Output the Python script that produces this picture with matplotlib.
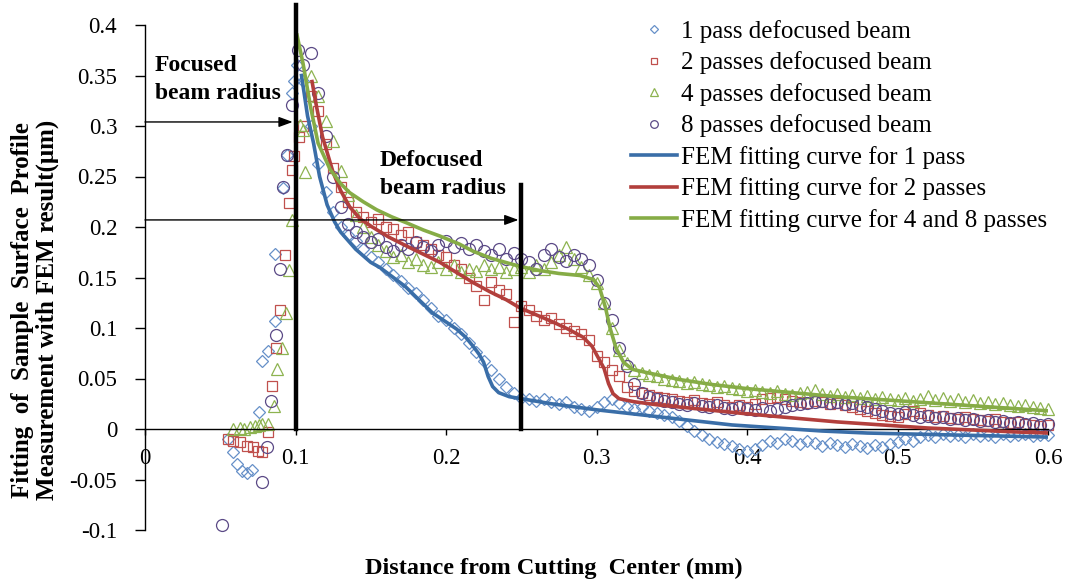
import matplotlib
matplotlib.use('Agg')
import matplotlib.pyplot as plt
from matplotlib.lines import Line2D

plt.rcParams['font.family'] = ['Liberation Serif', 'DejaVu Serif']
plt.rcParams['axes.unicode_minus'] = False

#####################
# data #
#####################
# scattered points before the 0.1 mm edge (x, y)
early_1p_x = [0.055, 0.0585, 0.061, 0.0645, 0.068, 0.071, 0.0757, 0.078, 0.0817, 0.0864,
              0.0864, 0.0917, 0.0943, 0.0977, 0.099, 0.101]
early_1p_y = [-0.010, -0.023, -0.035, -0.042, -0.044, -0.041, 0.017, 0.067, 0.077, 0.107,
              0.173, 0.239, 0.271, 0.333, 0.345, 0.360]
early_2p_x = [0.055, 0.0585, 0.063, 0.068, 0.072, 0.075, 0.078, 0.082, 0.0844, 0.087,
              0.0897, 0.093, 0.0957, 0.0977, 0.099, 0.102]
early_2p_y = [-0.010, -0.012, -0.013, -0.017, -0.018, -0.022, -0.023, -0.003, 0.043, 0.080,
              0.118, 0.172, 0.224, 0.256, 0.270, 0.289]
early_4p_x = [0.0585, 0.063, 0.066, 0.070, 0.073, 0.076, 0.078, 0.082, 0.0857, 0.0877,
              0.091, 0.0937, 0.096, 0.098, 0.103, 0.106]
early_4p_y = [0.000, 0.001, 0.000, 0.002, 0.003, 0.004, 0.005, 0.005, 0.023, 0.059,
              0.080, 0.115, 0.157, 0.207, 0.301, 0.254]
early_8p_x = [0.051, 0.078, 0.081, 0.0837, 0.087, 0.0897, 0.0917, 0.0943, 0.0977, 0.1017]
early_8p_y = [-0.095, -0.052, -0.018, 0.028, 0.093, 0.158, 0.240, 0.271, 0.321, 0.375]

# sampling positions beyond the focused edge (mm)
dist_mm = [0.105, 0.110, 0.115, 0.120, 0.125, 0.130, 0.135, 0.140, 0.145, 0.150,
           0.155, 0.160, 0.165, 0.170, 0.175, 0.180, 0.185, 0.190, 0.195, 0.200,
           0.205, 0.210, 0.215, 0.220, 0.225, 0.230, 0.235, 0.240, 0.245, 0.250,
           0.255, 0.260, 0.265, 0.270, 0.275, 0.280, 0.285, 0.290, 0.295, 0.300,
           0.305, 0.310, 0.315, 0.320, 0.325, 0.330, 0.335, 0.340, 0.345, 0.350,
           0.355, 0.360, 0.365, 0.370, 0.375, 0.380, 0.385, 0.390, 0.395, 0.400,
           0.405, 0.410, 0.415, 0.420, 0.425, 0.430, 0.435, 0.440, 0.445, 0.450,
           0.455, 0.460, 0.465, 0.470, 0.475, 0.480, 0.485, 0.490, 0.495, 0.500,
           0.505, 0.510, 0.515, 0.520, 0.525, 0.530, 0.535, 0.540, 0.545, 0.550,
           0.555, 0.560, 0.565, 0.570, 0.575, 0.580, 0.585, 0.590, 0.595, 0.600]

pass1 = [0.345, 0.300, 0.262, 0.235, 0.215, 0.200, 0.192, 0.186, 0.178, 0.170,
         0.165, 0.158, 0.152, 0.147, 0.140, 0.135, 0.128, 0.120, 0.112, 0.108,
         0.100, 0.094, 0.085, 0.076, 0.067, 0.058, 0.050, 0.042, 0.036, 0.031,
         0.030, 0.028, 0.030, 0.027, 0.025, 0.027, 0.022, 0.020, 0.018, 0.022,
         0.027, 0.030, 0.026, 0.022, 0.020, 0.022, 0.018, 0.016, 0.014, 0.012,
         0.008, 0.003, -0.002, -0.006, -0.010, -0.013, -0.015, -0.017, -0.020, -0.022,
         -0.020, -0.016, -0.012, -0.014, -0.010, -0.012, -0.015, -0.012, -0.014, -0.017,
         -0.014, -0.016, -0.018, -0.015, -0.017, -0.019, -0.016, -0.018, -0.015, -0.013,
         -0.010, -0.012, -0.008, -0.006, -0.008, -0.005, -0.007, -0.006, -0.008, -0.005,
         -0.007, -0.006, -0.008, -0.005, -0.007, -0.006, -0.005, -0.007, -0.006, -0.006]

pass2 = [0.300, 0.330, 0.315, 0.282, 0.258, 0.240, 0.225, 0.215, 0.210, 0.205,
         0.208, 0.200, 0.198, 0.192, 0.195, 0.185, 0.182, 0.178, 0.172, 0.170,
         0.162, 0.158, 0.150, 0.142, 0.128, 0.146, 0.138, 0.134, 0.106, 0.122,
         0.118, 0.112, 0.108, 0.110, 0.104, 0.100, 0.097, 0.094, 0.088, 0.072,
         0.066, 0.058, 0.052, 0.042, 0.038, 0.036, 0.034, 0.032, 0.031, 0.030,
         0.028, 0.027, 0.029, 0.026, 0.025, 0.027, 0.024, 0.022, 0.024, 0.022,
         0.025, 0.030, 0.031, 0.032, 0.030, 0.028, 0.027, 0.026, 0.028, 0.027,
         0.025, 0.026, 0.024, 0.022, 0.020, 0.018, 0.016, 0.014, 0.013, 0.012,
         0.015, 0.018, 0.016, 0.014, 0.012, 0.013, 0.011, 0.010, 0.012, 0.010,
         0.009, 0.008, 0.010, 0.007, 0.006, 0.007, 0.005, 0.004, 0.003, 0.004]

pass4 = [0.296, 0.350, 0.330, 0.305, 0.285, 0.255, 0.232, 0.212, 0.200, 0.190,
         0.182, 0.176, 0.170, 0.172, 0.165, 0.168, 0.162, 0.160, 0.165, 0.158,
         0.162, 0.155, 0.158, 0.156, 0.162, 0.158, 0.160, 0.155, 0.158, 0.160,
         0.155, 0.162, 0.158, 0.165, 0.172, 0.180, 0.168, 0.160, 0.152, 0.145,
         0.125, 0.100, 0.078, 0.065, 0.058, 0.055, 0.053, 0.052, 0.050, 0.049,
         0.048, 0.046, 0.047, 0.045, 0.044, 0.042, 0.043, 0.041, 0.040, 0.038,
         0.039, 0.037, 0.036, 0.038, 0.035, 0.034, 0.036, 0.037, 0.039, 0.035,
         0.033, 0.035, 0.032, 0.034, 0.031, 0.033, 0.030, 0.032, 0.030, 0.029,
         0.031, 0.028, 0.030, 0.033, 0.029, 0.031, 0.028, 0.030, 0.027, 0.029,
         0.026, 0.027, 0.025, 0.026, 0.024, 0.023, 0.024, 0.022, 0.021, 0.020]

pass8 = [0.360, 0.372, 0.333, 0.290, 0.250, 0.220, 0.203, 0.195, 0.190, 0.185,
         0.188, 0.180, 0.176, 0.182, 0.178, 0.185, 0.180, 0.176, 0.182, 0.186,
         0.180, 0.184, 0.178, 0.182, 0.176, 0.172, 0.178, 0.168, 0.174, 0.168,
         0.165, 0.158, 0.172, 0.178, 0.170, 0.166, 0.172, 0.168, 0.162, 0.148,
         0.125, 0.108, 0.080, 0.062, 0.045, 0.036, 0.032, 0.030, 0.028, 0.027,
         0.025, 0.024, 0.026, 0.023, 0.022, 0.024, 0.021, 0.020, 0.022, 0.020,
         0.019, 0.021, 0.018, 0.020, 0.022, 0.024, 0.025, 0.026, 0.027, 0.028,
         0.026, 0.027, 0.025, 0.026, 0.024, 0.022, 0.020, 0.018, 0.016, 0.015,
         0.017, 0.014, 0.012, 0.013, 0.011, 0.012, 0.010, 0.011, 0.009, 0.010,
         0.008, 0.009, 0.007, 0.008, 0.006, 0.007, 0.005, 0.006, 0.004, 0.005]

# FEM fitting curves
fem1_x = [0.104, 0.108, 0.112, 0.116, 0.121, 0.126, 0.130, 0.140, 0.150, 0.156,
          0.165, 0.173, 0.182, 0.191, 0.200, 0.207, 0.213, 0.218, 0.222, 0.225,
          0.228, 0.231, 0.235, 0.242, 0.250, 0.270, 0.300, 0.330, 0.360, 0.390,
          0.420, 0.450, 0.480, 0.510, 0.540, 0.570, 0.600]
fem1_y = [0.350, 0.310, 0.283, 0.250, 0.222, 0.205, 0.195, 0.178, 0.165, 0.160,
          0.150, 0.141, 0.128, 0.115, 0.106, 0.099, 0.091, 0.082, 0.074, 0.066,
          0.052, 0.042, 0.036, 0.032, 0.030, 0.025, 0.019, 0.014, 0.009, 0.004,
          0.001, -0.002, -0.004, -0.005, -0.006, -0.007, -0.008]
fem2_x = [0.111, 0.114, 0.118, 0.125, 0.130, 0.136, 0.143, 0.151, 0.162, 0.174,
          0.185, 0.196, 0.207, 0.218, 0.229, 0.240, 0.249, 0.260, 0.271, 0.281,
          0.291, 0.297, 0.301, 0.305, 0.308, 0.311, 0.315, 0.325, 0.340, 0.367,
          0.400, 0.430, 0.460, 0.490, 0.520, 0.550, 0.580, 0.600]
fem2_y = [0.344, 0.319, 0.289, 0.254, 0.236, 0.220, 0.208, 0.200, 0.190, 0.181,
          0.173, 0.165, 0.155, 0.145, 0.136, 0.128, 0.120, 0.113, 0.106, 0.099,
          0.091, 0.082, 0.071, 0.060, 0.045, 0.035, 0.030, 0.027, 0.024, 0.020,
          0.015, 0.011, 0.007, 0.004, 0.001, -0.001, -0.003, -0.004]
fem4_x = [0.101, 0.105, 0.110, 0.115, 0.123, 0.130, 0.136, 0.145, 0.154, 0.164,
          0.174, 0.185, 0.196, 0.209, 0.218, 0.230, 0.249, 0.262, 0.275, 0.289,
          0.298, 0.302, 0.306, 0.309, 0.313, 0.318, 0.324, 0.333, 0.355, 0.377,
          0.400, 0.430, 0.460, 0.490, 0.520, 0.550, 0.580, 0.600]
fem4_y = [0.390, 0.362, 0.319, 0.283, 0.257, 0.243, 0.234, 0.225, 0.217, 0.210,
          0.204, 0.197, 0.191, 0.183, 0.176, 0.169, 0.161, 0.157, 0.154, 0.152,
          0.148, 0.140, 0.120, 0.100, 0.080, 0.066, 0.059, 0.056, 0.049, 0.044,
          0.040, 0.036, 0.032, 0.029, 0.026, 0.023, 0.020, 0.018]

# beam radius markers
focused_edge = 0.1
defocused_edge = 0.25
focused_arrow_y = 0.304
defocused_arrow_y = 0.207

c_d1, c_d2, c_d4, c_d8 = '#6690C8', '#C0504D', '#8DB350', '#5B4A86'
c_l1, c_l2, c_l4 = '#3A6EA8', '#B23F3C', '#86AC46'

############
# plotting #
############
fig = plt.figure(figsize=(10.71, 5.82), dpi=100)
ax = fig.add_axes([145 / 1071, 1 - 530 / 582, 903 / 1071, 505 / 582])

mk = dict(linestyle='none', markerfacecolor='none', markeredgewidth=0.9, clip_on=False)
ax.plot(early_1p_x + dist_mm, early_1p_y + pass1, 'D', ms=6.3, color=c_d1, **mk)
ax.plot(early_2p_x + dist_mm, early_2p_y + pass2, 's', ms=7.0, color=c_d2, **mk)
ax.plot(early_4p_x + dist_mm, early_4p_y + pass4, '^', ms=8.5, color=c_d4, **mk)
ax.plot(early_8p_x + dist_mm, early_8p_y + pass8, 'o', ms=8.6, color=c_d8, **mk)

ax.plot(fem1_x, fem1_y, color=c_l1, lw=2.6, zorder=4)
ax.plot(fem2_x, fem2_y, color=c_l2, lw=2.6, zorder=4)
ax.plot(fem4_x, fem4_y, color=c_l4, lw=2.6, zorder=4)

ax.plot([focused_edge, focused_edge], [0, 0.42], color='k', lw=3.2, clip_on=False, zorder=5)
ax.plot([defocused_edge, defocused_edge], [0, 0.242], color='k', lw=3.2, clip_on=False, zorder=5)
arr = dict(arrowstyle='-|>,head_length=0.6,head_width=0.22', color='k', lw=1.0,
           shrinkA=0, shrinkB=2, mutation_scale=14)
ax.annotate('', xy=(focused_edge, focused_arrow_y), xytext=(0, focused_arrow_y), arrowprops=arr, zorder=6)
ax.annotate('', xy=(defocused_edge, defocused_arrow_y), xytext=(0, defocused_arrow_y), arrowprops=arr, zorder=6)

ax.text(0.0066, 0.346, 'Focused\nbeam radius', fontsize=17, fontweight='bold',
        ha='left', va='center', linespacing=1.45)
ax.text(0.156, 0.252, 'Defocused\nbeam radius', fontsize=17, fontweight='bold',
        ha='left', va='center', linespacing=1.45)

ax.set_xlim(0, 0.6)
ax.set_ylim(-0.1, 0.4)
ax.spines['top'].set_visible(False)
ax.spines['right'].set_visible(False)
ax.spines['bottom'].set_position(('data', 0))
ax.spines['left'].set_linewidth(1.0)
ax.spines['bottom'].set_linewidth(1.0)
ax.set_xticks([0, 0.1, 0.2, 0.3, 0.4, 0.5, 0.6])
ax.set_xticklabels(['0', '0.1', '0.2', '0.3', '0.4', '0.5', '0.6'])
ax.set_yticks([-0.1, -0.05, 0, 0.05, 0.1, 0.15, 0.2, 0.25, 0.3, 0.35, 0.4])
ax.set_yticklabels(['-0.1', '-0.05', '0', '0.05', '0.1', '0.15', '0.2', '0.25', '0.3', '0.35', '0.4'])
ax.tick_params(axis='x', direction='out', length=4.5, width=1, pad=9, labelsize=16.5)
ax.tick_params(axis='y', direction='out', length=7, width=1, pad=13, labelsize=16.5)

fig.text(35 / 1071, 1 - 310 / 582,
         'Fitting  of  Sample  Surface  Profile\nMeasurement with FEM result(\u03bcm)',
         rotation=90, ha='center', va='center', fontsize=18, fontweight='bold',
         linespacing=1.05, multialignment='center')
fig.text(554 / 1071, 1 - 568 / 582, 'Distance from Cutting  Center (mm)',
         ha='center', va='center', fontsize=17.5, fontweight='bold')

handles = [
    Line2D([], [], ls='none', marker='D', ms=4.5, mfc='none', mec=c_d1, mew=0.9),
    Line2D([], [], ls='none', marker='s', ms=5, mfc='none', mec=c_d2, mew=0.9),
    Line2D([], [], ls='none', marker='^', ms=5.5, mfc='none', mec=c_d4, mew=0.9),
    Line2D([], [], ls='none', marker='o', ms=5.5, mfc='none', mec=c_d8, mew=0.9),
    Line2D([], [], color=c_l1, lw=2.6),
    Line2D([], [], color=c_l2, lw=2.6),
    Line2D([], [], color=c_l4, lw=2.6),
]
labels = ['1 pass defocused beam', '2 passes defocused beam', '4 passes defocused beam',
          '8 passes defocused beam', 'FEM fitting curve for 1 pass',
          'FEM fitting curve for 2 passes', 'FEM fitting curve for 4 and 8 passes']
fig.legend(handles, labels, loc='upper left', bbox_to_anchor=(631 / 1071, 1 - 20 / 582),
           frameon=False, fontsize=18, handlelength=1.85, handletextpad=0.15,
           labelspacing=0.34, borderaxespad=0, borderpad=0)

fig.savefig('out.png', dpi=100)
